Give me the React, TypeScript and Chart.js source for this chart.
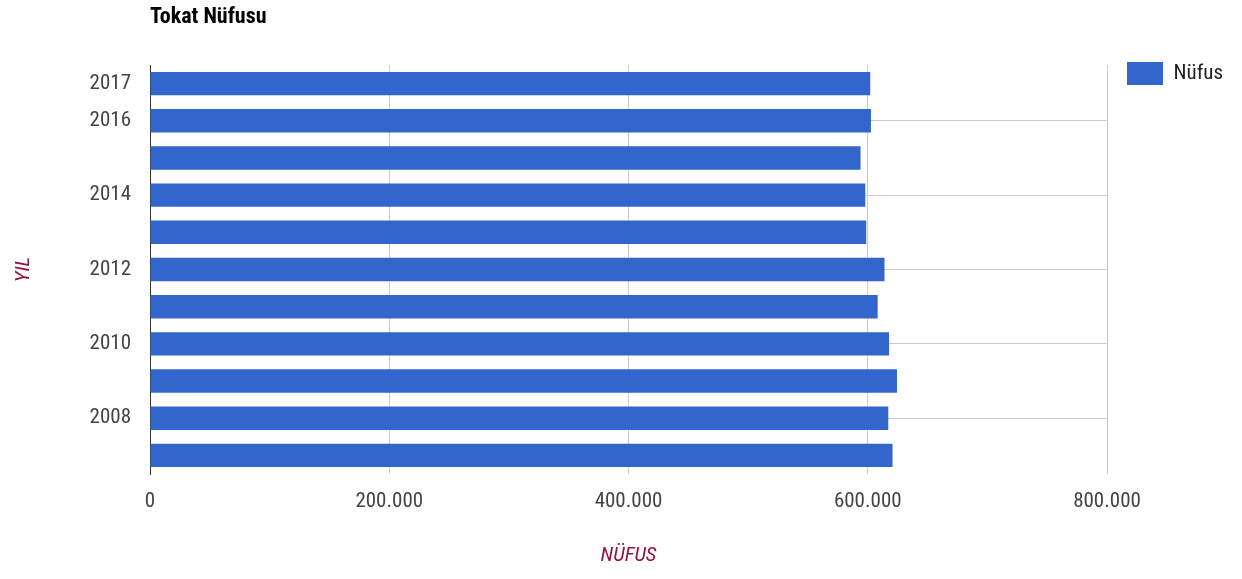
import { useEffect, useRef } from 'react';
import { Chart, registerables } from 'chart.js';

Chart.register(...registerables);

// ---- data ----
const YEARS = ['2007', '2008', '2009', '2010', '2011', '2012', '2013', '2014', '2015', '2016', '2017'];
const POPULATION = [620722, 617158, 624439, 617802, 608299, 613990, 598708, 597920, 593990, 602662, 602086];
const SERIES_LABEL = 'Nüfus';
const CHART_TITLE = 'Tokat Nüfusu';
const X_AXIS_TITLE = 'NÜFUS';
const Y_AXIS_TITLE = 'YIL';
const X_TICKS = [0, 200000, 400000, 600000, 800000];
const LABELED_YEARS = ['2008', '2010', '2012', '2014', '2016', '2017'];
const GRID_YEARS = ['2008', '2010', '2012', '2014', '2016'];

const FAMILY_CANDIDATES = ['Roboto Condensed', 'Liberation Sans Narrow', 'Arial Narrow', 'DejaVu Sans Condensed'];
const BAR_COLOR = '#3366cc';
const GRID_COLOR = '#cccccc';
const TICK_COLOR = '#444444';
const AXIS_TITLE_COLOR = '#94163f';

const formatNumber = (n: number) => String(n).replace(/\B(?=(\d{3})+(?!\d))/g, '.');

function pickFamily(): string {
  const c = document.createElement('canvas').getContext('2d');
  if (!c) return FAMILY_CANDIDATES[FAMILY_CANDIDATES.length - 1];
  const test = 'Nüfus 2017 200.000 Tokat';
  c.font = '40px monospace';
  const base = c.measureText(test).width;
  for (const f of FAMILY_CANDIDATES) {
    c.font = `40px "${f}", monospace`;
    if (Math.abs(c.measureText(test).width - base) > 0.5) return f;
  }
  return FAMILY_CANDIDATES[FAMILY_CANDIDATES.length - 1];
}

// font size that makes `text` about `target` px wide
function fitSize(family: string, text: string, target: number, prefix = ''): number {
  const c = document.createElement('canvas').getContext('2d');
  if (!c) return 20;
  c.font = `${prefix}40px "${family}"`;
  const w = c.measureText(text).width;
  return Math.round(((40 * target) / w) * 2) / 2;
}

export default function App() {
  const canvasRef = useRef<HTMLCanvasElement | null>(null);

  useEffect(() => {
    document.body.style.margin = '0';
    const canvas = canvasRef.current;
    if (!canvas) return;

    const fam = pickFamily();
    const FONT = `"${fam}", "DejaVu Sans Condensed", sans-serif`;
    const tickSize = Math.min(22, fitSize(fam, '2017', 41));
    const titleSize = Math.min(22, fitSize(fam, CHART_TITLE, 118, 'bold '));
    const legendSize = Math.min(22, fitSize(fam, SERIES_LABEL, 49));
    const axisTitleSize = Math.min(21, fitSize(fam, X_AXIS_TITLE, 62, 'italic '));

    const titlePlugin = {
      id: 'leftTitle',
      afterDraw(chart: any) {
        const { ctx, chartArea } = chart;
        ctx.save();
        ctx.font = `bold ${titleSize}px ${FONT}`;
        ctx.fillStyle = '#000000';
        ctx.textAlign = 'left';
        ctx.textBaseline = 'alphabetic';
        ctx.fillText(CHART_TITLE, chartArea.left, 23);
        ctx.restore();
      },
    };

    const legendOffsetPlugin = {
      id: 'legendOffset',
      afterLayout(chart: any) {
        const lg = chart.legend;
        if (!lg) return;
        lg.left += 20;
        lg.right = chart.width;
        lg.width = lg.right - lg.left;
        lg.top -= 3;
        lg.bottom -= 3;
      },
    };

    const chart = new Chart(canvas, {
      type: 'bar',
      data: {
        labels: YEARS,
        datasets: [
          {
            label: SERIES_LABEL,
            data: POPULATION,
            backgroundColor: BAR_COLOR,
            borderWidth: 0,
            barPercentage: 0.63,
            categoryPercentage: 1,
          },
        ],
      },
      options: {
        indexAxis: 'y',
        animation: false,
        responsive: false,
        maintainAspectRatio: false,
        layout: { padding: { top: 65, right: 55, bottom: 0, left: 0 } },
        plugins: {
          title: { display: false },
          tooltip: { enabled: false },
          legend: {
            display: true,
            position: 'right',
            align: 'start',
            maxWidth: 80,
            labels: {
              boxWidth: 36,
              boxHeight: 23,
              padding: 0,
              color: '#222222',
              font: { family: FONT, size: legendSize },
            },
          },
        },
        scales: {
          x: {
            type: 'linear',
            min: X_TICKS[0],
            max: X_TICKS[X_TICKS.length - 1],
            ticks: {
              stepSize: X_TICKS[1] - X_TICKS[0],
              color: TICK_COLOR,
              padding: 15,
              font: { family: FONT, size: tickSize },
              callback: (v: any) => formatNumber(Number(v)),
            },
            grid: {
              drawTicks: false,
              color: (ctx: any) => (ctx.tick && ctx.tick.value === 0 ? 'rgba(0,0,0,0)' : GRID_COLOR),
            },
            border: { display: false },
            title: {
              display: true,
              text: X_AXIS_TITLE,
              color: AXIS_TITLE_COLOR,
              padding: { top: 0, bottom: 11 },
              font: { family: FONT, size: axisTitleSize, style: 'italic' },
            },
            afterFit: (scale: any) => {
              scale.height = 105;
            },
          },
          y: {
            type: 'category',
            reverse: true,
            ticks: {
              autoSkip: false,
              color: TICK_COLOR,
              padding: 19,
              font: { family: FONT, size: tickSize },
              callback: (v: any) => {
                const y = YEARS[Number(v)];
                return LABELED_YEARS.includes(y) ? y : '';
              },
            },
            grid: {
              offset: false,
              drawTicks: false,
              color: (ctx: any) =>
                ctx.tick && GRID_YEARS.includes(YEARS[ctx.tick.value]) ? GRID_COLOR : 'rgba(0,0,0,0)',
            },
            border: { display: true, color: '#333333', width: 1 },
            title: {
              display: true,
              text: Y_AXIS_TITLE,
              color: AXIS_TITLE_COLOR,
              padding: { top: 11, bottom: 0 },
              font: { family: FONT, size: axisTitleSize, style: 'italic' },
            },
            afterFit: (scale: any) => {
              scale.width = 150;
            },
          },
        },
      },
      plugins: [titlePlugin, legendOffsetPlugin],
    } as any);
    return () => chart.destroy();
  }, []);

  return (
    <div style={{ position: 'absolute', left: 0, top: 0, width: 1242, height: 579, background: '#ffffff' }}>
      <canvas ref={canvasRef} width={1242} height={579} style={{ display: 'block' }} />
    </div>
  );
}
